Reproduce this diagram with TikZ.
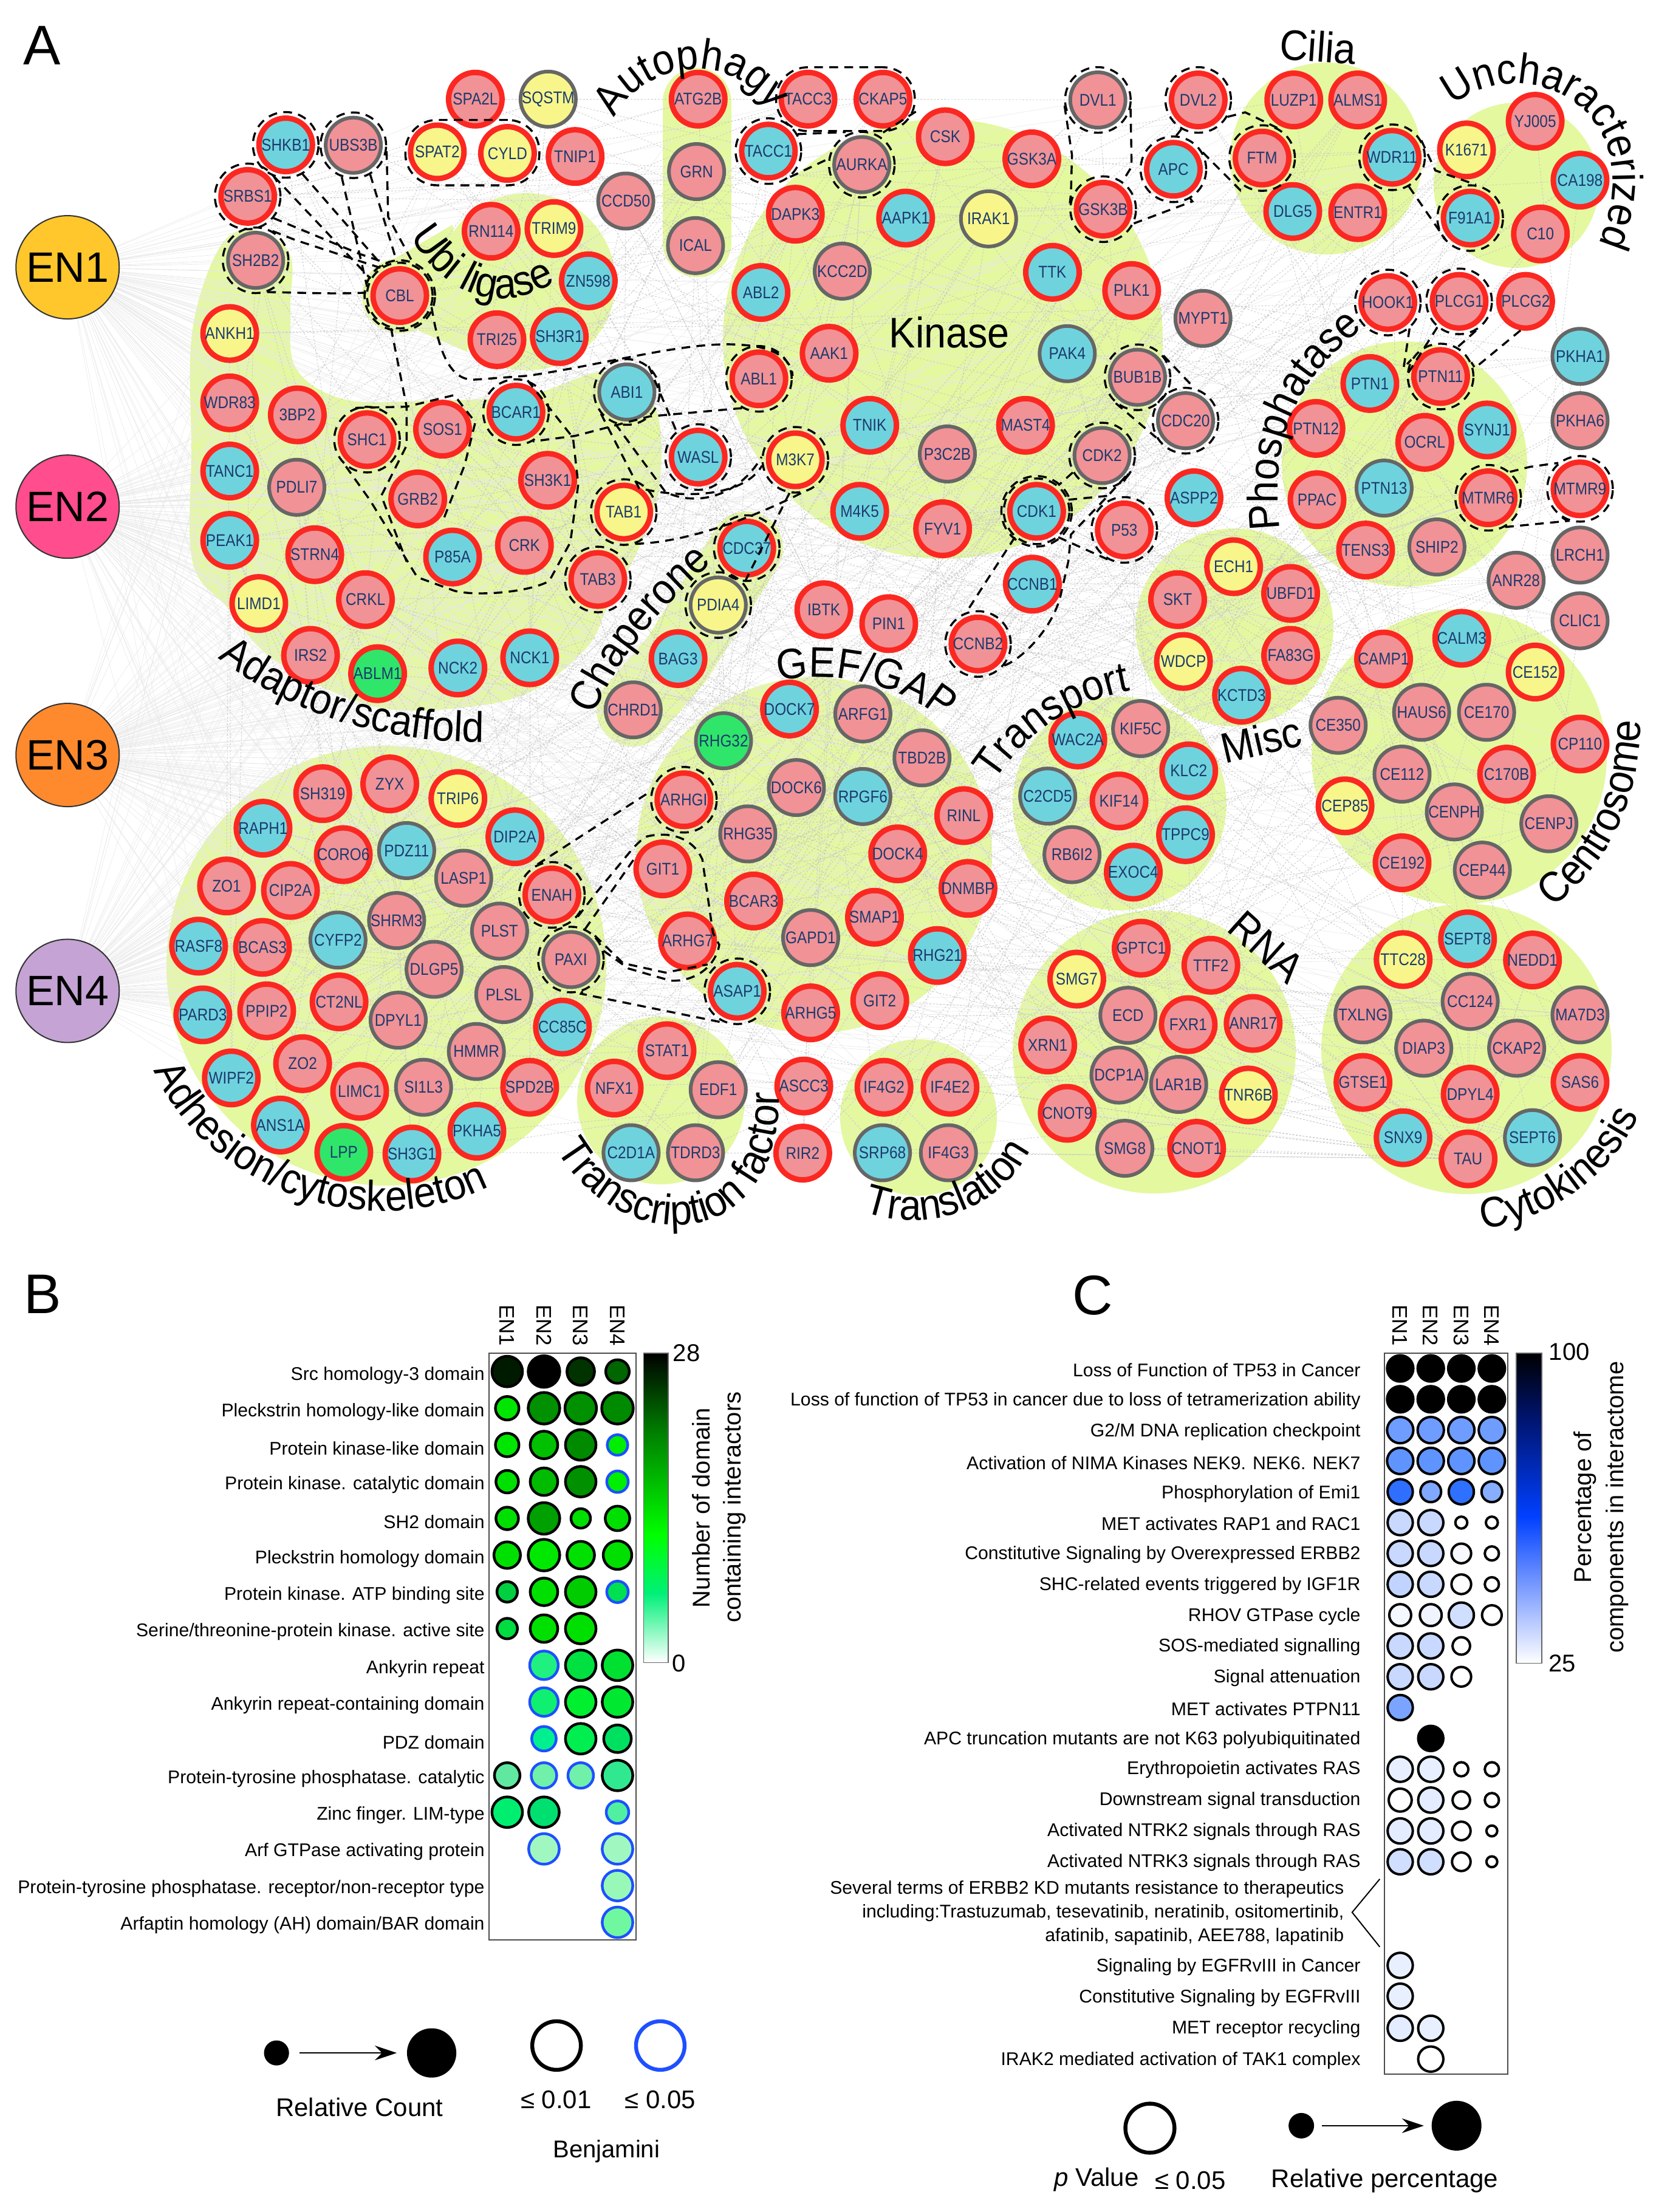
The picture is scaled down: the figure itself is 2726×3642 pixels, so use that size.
\documentclass[tikz,border=0pt]{standalone}
\usepackage{fontspec}
\setmainfont{Liberation Sans}
\newfontfamily\nf[FakeStretch=0.87]{Liberation Sans}
\newfontfamily\labf[FakeStretch=0.92]{Liberation Sans}
\usetikzlibrary{arrows.meta,decorations.text,fit,shapes.geometric}
\pgfdeclarelayer{blobs}\pgfdeclarelayer{edges}\pgfsetlayers{blobs,edges,main}
\definecolor{cP}{HTML}{F19296}\definecolor{cC}{HTML}{6FD3DE}\definecolor{cY}{HTML}{F8F68A}\definecolor{cG}{HTML}{2FE66A}
\definecolor{nRed}{HTML}{FB2822}\definecolor{nGray}{HTML}{666666}\definecolor{nTxt}{HTML}{1C3B6E}
\definecolor{blobc}{HTML}{E4F8A0}\definecolor{blueP}{HTML}{1E50FF}
\newcommand\lab{\labf\fontsize{17.6}{18}\selectfont}
\newcount\pncount
\newcommand\pn[5]{\global\advance\pncount by 1
 \expandafter\xdef\csname pnm\the\pncount\endcsname{#1}%
 \node[pnode,fill=#2,#3] (#1) at (#4,#5) {\makebox[0pt]{#1}};}
\newcommand\rg[1]{\node[ring] (r#1) at (#1) {};}
\newcommand\bd[5]{\definecolor{tmpf}{HTML}{#4}%
 \pgfmathsetmacro\tmpx{1007+73*(#2-1)}\pgfmathsetmacro\tmpy{205+59.55*#1}\pgfmathsetmacro\tmps{#3*.2073-1.1}%
 \node[dotnode,draw=#5,fill=tmpf,minimum size=\tmps pt] (B#1x#2) at (\tmpx,\tmpy) {};}
\newcommand\cd[4]{\definecolor{tmpf}{HTML}{#4}%
 \pgfmathsetmacro\tmpx{1105+55.3*(#2-1)}\pgfmathsetmacro\tmps{#3*.2273-1}%
 \node[dotnode,line width=1pt,draw=black,fill=tmpf,minimum size=\tmps pt] (C#1x#2) at (\tmpx,#1) {};}
\tikzset{
 z1/.style={x=.21733pt,y=-.15944pt},
 z2/.style={shift={(1363,0)},x=.21733pt,y=-.15944pt},
 z3/.style={shift={(0,1000)},x=.21733pt,y=-.16741pt},
 z4/.style={shift={(1363,1000)},x=.21733pt,y=-.16741pt},
 z5/.style={shift={(0,2050)},x=.20727pt,y=-.25383pt},
 z6/.style={shift={(1300,2050)},x=.22736pt,y=-.25383pt},
 pnode/.style={circle,inner sep=0pt,text=nTxt,font=\nf\fontsize{7}{7}\selectfont},
 br/.style={draw=nRed,line width=2.25pt,minimum size=22pt},
 bg/.style={draw=nGray,line width=1.5pt,minimum size=22.75pt},
 ring/.style={circle,draw=black,line width=.85pt,dash pattern=on 3.6pt off 2.6pt,minimum size=27pt,inner sep=0pt},
 capsule/.style={rectangle,draw=black,line width=.85pt,dash pattern=on 3.6pt off 2.6pt,rounded corners=13pt,inner sep=1pt},
 dl/.style={draw=black,line width=.85pt,dash pattern=on 3.6pt off 2.6pt},
 blob/.style={fill=blobc,draw=none},
 hub/.style={circle,draw=black!80,line width=.5pt,minimum size=42.5pt,inner sep=0pt,font=\fontsize{17.5}{18}\selectfont},
 grp/.style={inner sep=0pt,font=\lab},
 edgeline/.style={draw=black!22,line width=.2pt,dash pattern=on .7pt off .7pt},
 fan/.style={draw=black!9,line width=.15pt},
 dotnode/.style={circle,inner sep=0pt,line width=1.1pt},
 rowl/.style={anchor=east,inner sep=0pt,font=\fontsize{7.55}{9}\selectfont},
 panel/.style={inner sep=0pt,font=\fontsize{23}{24}\selectfont},
 small/.style={inner sep=0pt,font=\fontsize{10}{12}\selectfont},
 head/.style={inner sep=0pt,rotate=-90,font=\fontsize{8.7}{10}\selectfont},
}
\begin{document}
\begin{tikzpicture}[x=.25pt,y=-.25pt]
\useasboundingbox (0,0) rectangle (2726,3642);
% ---- blobs
\begin{pgfonlayer}{blobs}
\fill[blob] (636,1590) circle[radius=362];
\fill[blob] (1088,1812) circle[radius=138];
\fill[blob] (1512,1840) circle[radius=129];
\fill[blob] (1900,1732) circle[radius=233];
\fill[blob] (2414,1727) circle[radius=239];
\fill[blob] (2402,1246) circle[radius=243];
\fill[blob] (1843,1323) circle[radius=176];
\fill[blob] (2032,1033) circle[radius=163];
\fill[blob] (1340,1408) circle[radius=293];
\fill[blob] (2312,764) circle[radius=202];
\fill[blob] (2183,261) circle[radius=158];
\fill[blob] (2496,305) circle[radius=136];
\fill[blob] (1552,558) circle[radius=362];
\fill[blob] (867,464) circle[radius=146];
\fill[blob] (658,487) circle[radius=62];
\fill[blob] (625,440) -- (745,370) -- (770,580) -- (690,545) -- cycle;
\draw[blobc,line width=28.25pt,line cap=round] (1147,168) -- (1147,400);
\draw[blobc,line width=30pt,line cap=round,line join=round] (1229,902) -- (1115,1084) -- (1042,1169);
\fill[blob] plot[smooth cycle,tension=.6] coordinates {(317,925) (374,1000) (452,1087) (608,1161) (739,1167) (869,1141) (965,1067) (1000,1000) (1056,893) (1086,797) (1078,670) (1000,612) (869,650) (695,660) (565,657) (487,606) (478,510) (478,421) (426,380) (365,402) (317,542) (315,740)};
\end{pgfonlayer}
% ---- hubs
\begin{scope}[z1]
\node[hub,fill={rgb,255:red,255;green,199;blue,44}] (EN1) at (128,690) {EN1};
\node[hub,fill={rgb,255:red,255;green,77;blue,141}] (EN2) at (128,1308) {EN2};
\node[panel] (LA) at (80,118) {A};
\end{scope}
\begin{scope}[z3]
\node[hub,fill={rgb,255:red,255;green,138;blue,46}] (EN3) at (128,363) {EN3};
\node[hub,fill={rgb,255:red,197;green,163;blue,212}] (EN4) at (128,943) {EN4};
\end{scope}
% ---- nodes
\begin{scope}[z1]
\pn{SPA2L}{cP}{br}{900}{256}\pn{SQSTM}{cY}{bg}{1038}{256}\pn{SPAT2}{cY}{br}{828}{392}\pn{CYLD}{cY}{br}{961}{396}
\pn{TNIP1}{cP}{br}{1089}{404}\pn{SHKB1}{cC}{br}{541}{374}\pn{UBS3B}{cP}{bg}{669}{375}\pn{SRBS1}{cP}{br}{469}{507}
\pn{SH2B2}{cP}{bg}{484}{672}\pn{CCD50}{cP}{bg}{1185}{519}\pn{ATG2B}{cP}{br}{1322}{256}\pn{GRN}{cP}{bg}{1319}{443}
\pn{ICAL}{cP}{bg}{1317}{634}\pn{TACC3}{cP}{br}{1530}{256}\pn{TACC1}{cC}{br}{1455}{390}\pn{DAPK3}{cP}{br}{1506}{553}
\pn{RN114}{cP}{br}{930}{597}\pn{TRIM9}{cY}{br}{1049}{590}\pn{ZN598}{cC}{br}{1114}{725}\pn{CBL}{cP}{br}{757}{763}
\pn{TRI25}{cP}{br}{941}{877}\pn{SH3R1}{cC}{br}{1059}{869}\pn{ANKH1}{cY}{br}{435}{861}\pn{ABL2}{cC}{br}{1441}{755}
\pn{ABL1}{cP}{br}{1437}{978}\pn{AAK1}{cP}{br}{1570}{912}\pn{WDR83}{cP}{br}{435}{1040}\pn{3BP2}{cP}{br}{563}{1071}
\pn{SHC1}{cP}{br}{695}{1135}\pn{SOS1}{cP}{br}{838}{1108}\pn{BCAR1}{cC}{br}{977}{1064}\pn{ABI1}{cC}{bg}{1187}{1012}
\pn{TANC1}{cC}{br}{435}{1216}\pn{PDLI7}{cP}{bg}{562}{1258}\pn{GRB2}{cP}{br}{791}{1288}\pn{SH3K1}{cP}{br}{1037}{1240}
\pn{WASL}{cC}{br}{1322}{1180}\pn{M3K7}{cY}{br}{1506}{1187}\pn{TAB1}{cY}{br}{1181}{1322}\pn{PEAK1}{cC}{br}{435}{1395}
\pn{STRN4}{cP}{br}{596}{1432}\pn{P85A}{cC}{br}{857}{1438}\pn{CRK}{cP}{br}{993}{1408}\pn{CDC37}{cC}{br}{1414}{1415}
\pn{TAB3}{cP}{br}{1132}{1496}\pn{LIMD1}{cY}{br}{490}{1558}\pn{CRKL}{cP}{br}{692}{1548}\pn{PDIA4}{cY}{bg}{1360}{1562}
\pn{IBTK}{cP}{br}{1560}{1574}
\end{scope}
\begin{scope}[z3]
\pn{IRS2}{cP}{br}{588}{118}\pn{ABLM1}{cG}{br}{715}{163}\pn{NCK2}{cC}{br}{867}{149}\pn{NCK1}{cC}{br}{1003}{124}
\pn{BAG3}{cC}{br}{1284}{126}\pn{CHRD1}{cP}{bg}{1199}{252}\pn{DOCK7}{cC}{br}{1495}{250}\pn{RHG32}{cG}{bg}{1370}{328}
\pn{SH319}{cP}{br}{611}{458}\pn{ZYX}{cP}{br}{738}{434}\pn{TRIP6}{cY}{br}{867}{470}\pn{RAPH1}{cC}{br}{498}{543}
\pn{CORO6}{cP}{br}{650}{608}\pn{PDZ11}{cC}{bg}{770}{598}\pn{DIP2A}{cC}{br}{975}{564}\pn{LASP1}{cP}{bg}{878}{666}
\pn{ZO1}{cP}{br}{429}{685}\pn{CIP2A}{cP}{br}{550}{696}\pn{ENAH}{cP}{br}{1045}{707}\pn{SHRM3}{cP}{bg}{751}{770}
\pn{CYFP2}{cC}{bg}{640}{818}\pn{PLST}{cP}{bg}{946}{796}\pn{RASF8}{cC}{br}{376}{833}\pn{BCAS3}{cP}{br}{497}{836}
\pn{PAXI}{cP}{bg}{1081}{866}\pn{DLGP5}{cP}{bg}{822}{890}\pn{PLSL}{cP}{bg}{954}{952}\pn{CT2NL}{cP}{br}{642}{970}
\pn{PPIP2}{cP}{br}{505}{992}\pn{PARD3}{cC}{br}{384}{1002}\pn{DPYL1}{cP}{bg}{754}{1015}\pn{CC85C}{cC}{br}{1065}{1032}
\pn{HMMR}{cP}{bg}{902}{1092}\pn{ZO2}{cP}{br}{573}{1122}\pn{WIPF2}{cC}{br}{438}{1157}\pn{SI1L3}{cP}{bg}{802}{1180}
\pn{SPD2B}{cP}{br}{1003}{1180}\pn{LIMC1}{cP}{br}{681}{1190}\pn{ANS1A}{cC}{br}{531}{1273}\pn{PKHA5}{cC}{br}{903}{1288}
\pn{LPP}{cG}{br}{651}{1340}\pn{SH3G1}{cC}{br}{780}{1344}\pn{ARHGI}{cP}{br}{1295}{473}\pn{RHG35}{cP}{bg}{1416}{557}
\pn{DOCK6}{cP}{bg}{1508}{443}\pn{GIT1}{cP}{br}{1255}{643}\pn{BCAR3}{cP}{br}{1427}{722}\pn{ARHG7}{cP}{br}{1302}{820}
\pn{GAPD1}{cP}{bg}{1535}{812}\pn{ASAP1}{cC}{br}{1396}{944}\pn{ARHG5}{cP}{br}{1535}{997}\pn{STAT1}{cP}{br}{1263}{1090}
\pn{NFX1}{cP}{br}{1163}{1182}\pn{EDF1}{cP}{bg}{1360}{1186}\pn{C2D1A}{cC}{bg}{1195}{1341}\pn{TDRD3}{cP}{bg}{1317}{1341}
\pn{ASCC3}{cP}{br}{1522}{1177}\pn{RIR2}{cP}{br}{1520}{1342}
\end{scope}
\begin{scope}[z2]
\pn{CKAP5}{cP}{br}{104}{256}\pn{CSK}{cP}{br}{222}{353}\pn{GSK3A}{cP}{br}{386}{410}\pn{DVL1}{cP}{bg}{511}{258}
\pn{DVL2}{cP}{br}{701}{258}\pn{LUZP1}{cP}{br}{882}{258}\pn{ALMS1}{cP}{br}{1003}{258}\pn{AURKA}{cP}{bg}{64}{425}
\pn{AAPK1}{cC}{br}{147}{563}\pn{IRAK1}{cY}{bg}{304}{565}\pn{APC}{cC}{br}{654}{437}\pn{GSK3B}{cP}{br}{521}{540}
\pn{FTM}{cP}{br}{822}{408}\pn{WDR11}{cC}{br}{1068}{406}\pn{DLG5}{cC}{br}{880}{546}\pn{ENTR1}{cP}{br}{1003}{549}
\pn{YJ005}{cP}{br}{1339}{313}\pn{K1671}{cY}{br}{1209}{387}\pn{CA198}{cC}{br}{1424}{465}\pn{F91A1}{cC}{br}{1216}{563}
\pn{C10}{cP}{br}{1349}{604}\pn{KCC2D}{cP}{bg}{27}{700}\pn{TTK}{cC}{br}{425}{703}\pn{PLK1}{cP}{br}{575}{750}
\pn{MYPT1}{cP}{bg}{710}{822}\pn{HOOK1}{cP}{br}{1060}{781}\pn{PLCG1}{cP}{br}{1195}{778}\pn{PLCG2}{cP}{br}{1321}{778}
\pn{PAK4}{cC}{bg}{453}{913}\pn{BUB1B}{cP}{bg}{586}{974}\pn{PKHA1}{cC}{bg}{1424}{920}\pn{PTN1}{cC}{br}{1026}{990}
\pn{PTN11}{cP}{br}{1160}{972}\pn{PKHA6}{cP}{bg}{1424}{1086}\pn{CDC20}{cP}{bg}{677}{1086}\pn{TNIK}{cC}{br}{79}{1098}
\pn{MAST4}{cP}{br}{374}{1098}\pn{P3C2B}{cP}{bg}{226}{1172}\pn{CDK2}{cP}{bg}{519}{1176}\pn{PTN12}{cP}{br}{924}{1106}
\pn{OCRL}{cP}{br}{1130}{1142}\pn{SYNJ1}{cC}{br}{1248}{1110}\pn{PTN13}{cC}{bg}{1053}{1260}\pn{PPAC}{cP}{br}{926}{1290}
\pn{MTMR6}{cP}{br}{1250}{1285}\pn{MTMR9}{cP}{br}{1424}{1262}\pn{M4K5}{cC}{br}{60}{1320}\pn{CDK1}{cC}{br}{395}{1320}
\pn{FYV1}{cP}{br}{217}{1365}\pn{ASPP2}{cC}{br}{693}{1285}\pn{P53}{cP}{br}{561}{1368}\pn{TENS3}{cP}{br}{1018}{1420}
\pn{SHIP2}{cP}{bg}{1153}{1412}\pn{LRCH1}{cP}{bg}{1424}{1433}\pn{ANR28}{cP}{bg}{1303}{1498}\pn{ECH1}{cY}{br}{768}{1463}
\pn{UBFD1}{cP}{br}{876}{1532}\pn{SKT}{cP}{br}{662}{1548}\pn{CCNB1}{cC}{br}{387}{1508}
\node[grp] (lbKinase) at (230,858) {Kinase};
\node[grp,rotate=-4] (lbCilia) at (928,120) {Cilia};
\end{scope}
\begin{scope}[z4]
\pn{PIN1}{cP}{br}{115}{40}\pn{CCNB2}{cP}{br}{284}{90}\pn{CLIC1}{cP}{bg}{1424}{33}\pn{WDCP}{cY}{br}{673}{133}
\pn{FA83G}{cP}{br}{876}{118}\pn{KCTD3}{cC}{br}{783}{216}\pn{CAMP1}{cP}{br}{1052}{127}\pn{CALM3}{cC}{br}{1200}{76}
\pn{CE152}{cY}{br}{1339}{159}\pn{CE350}{cP}{bg}{966}{290}\pn{HAUS6}{cP}{bg}{1124}{258}\pn{CE170}{cP}{bg}{1247}{258}
\pn{CP110}{cP}{br}{1424}{336}\pn{CE112}{cP}{bg}{1087}{410}\pn{C170B}{cP}{br}{1285}{410}\pn{CEP85}{cY}{br}{979}{488}
\pn{CENPH}{cP}{bg}{1186}{503}\pn{CENPJ}{cP}{bg}{1365}{532}\pn{CE192}{cP}{br}{1087}{628}\pn{CEP44}{cP}{bg}{1239}{646}
\pn{ARFG1}{cP}{bg}{66}{262}\pn{TBD2B}{cP}{bg}{178}{370}\pn{RPGF6}{cC}{bg}{66}{465}\pn{RINL}{cP}{br}{257}{512}
\pn{DOCK4}{cP}{br}{132}{606}\pn{DNMBP}{cP}{br}{265}{691}\pn{SMAP1}{cP}{br}{88}{762}\pn{RHG21}{cC}{br}{207}{856}
\pn{GIT2}{cP}{br}{98}{967}\pn{WAC2A}{cC}{br}{473}{326}\pn{KIF5C}{cP}{bg}{592}{298}\pn{KLC2}{cC}{br}{683}{402}
\pn{C2CD5}{cC}{bg}{416}{464}\pn{KIF14}{cP}{br}{551}{476}\pn{TPPC9}{cC}{br}{677}{559}\pn{RB6I2}{cP}{bg}{462}{608}
\pn{EXOC4}{cC}{br}{578}{651}\pn{GPTC1}{cP}{br}{593}{838}\pn{TTF2}{cP}{br}{725}{880}\pn{SMG7}{cY}{br}{471}{914}
\pn{ECD}{cP}{bg}{568}{1003}\pn{FXR1}{cP}{br}{682}{1026}\pn{ANR17}{cP}{br}{805}{1023}\pn{XRN1}{cP}{br}{416}{1076}
\pn{DCP1A}{cP}{bg}{551}{1150}\pn{LAR1B}{cP}{bg}{664}{1173}\pn{TNR6B}{cY}{br}{796}{1199}\pn{CNOT9}{cP}{br}{453}{1244}
\pn{SMG8}{cP}{bg}{562}{1330}\pn{CNOT1}{cP}{br}{698}{1330}\pn{IF4G2}{cP}{br}{106}{1180}\pn{IF4E2}{cP}{br}{231}{1180}
\pn{SRP68}{cC}{bg}{103}{1341}\pn{IF4G3}{cP}{bg}{228}{1341}\pn{SEPT8}{cC}{br}{1211}{815}\pn{TTC28}{cY}{br}{1089}{866}
\pn{NEDD1}{cP}{br}{1334}{867}\pn{TXLNG}{cP}{bg}{1013}{1002}\pn{CC124}{cP}{bg}{1216}{969}\pn{MA7D3}{cP}{bg}{1424}{1002}
\pn{DIAP3}{cP}{bg}{1128}{1084}\pn{CKAP2}{cP}{bg}{1304}{1084}\pn{GTSE1}{cP}{br}{1013}{1168}\pn{DPYL4}{cP}{br}{1216}{1197}
\pn{SAS6}{cP}{br}{1424}{1168}\pn{SNX9}{cC}{br}{1089}{1304}\pn{SEPT6}{cC}{bg}{1334}{1304}\pn{TAU}{cP}{br}{1212}{1356}
\node[grp,rotate=-42] (lbRNA) at (830,835) {RNA};
\node[grp,rotate=13] (lbMisc) at (820,325) {Misc};
\end{scope}
% ---- grey network
\pgfmathsetseed{11}
\edef\NN{\the\pncount}
\begin{pgfonlayer}{edges}
\foreach \k in {1,...,\NN}{
  \pgfmathrandominteger{\h}{1}{4}
  \edef\A{\csname pnm\k\endcsname}
  \draw[fan] (EN\h) -- (\A);
  \pgfmathtruncatemacro\hh{mod(\h,4)+1}
  \draw[fan] (EN\hh) -- (\A);
}
\foreach \k in {1,...,430}{
  \pgfmathrandominteger{\a}{1}{\NN}\pgfmathrandominteger{\d}{1}{45}
  \pgfmathtruncatemacro\b{min(\a+\d,\NN)}
  \edef\A{\csname pnm\a\endcsname}\edef\B{\csname pnm\b\endcsname}
  \ifx\A\B\else\draw[edgeline] (\A) -- (\B);\fi
}
\foreach \k in {1,...,280}{
  \pgfmathrandominteger{\a}{1}{\NN}\pgfmathrandominteger{\b}{1}{\NN}
  \edef\A{\csname pnm\a\endcsname}\edef\B{\csname pnm\b\endcsname}
  \ifx\A\B\else\draw[edgeline] (\A) -- (\B);\fi
}
\end{pgfonlayer}
% ---- dashed rings
\rg{SHKB1}\rg{UBS3B}\rg{SRBS1}\rg{SH2B2}\rg{CBL}\rg{TACC1}\rg{AURKA}\rg{BCAR1}\rg{ABI1}\rg{WASL}\rg{M3K7}\rg{TAB1}\rg{TAB3}\rg{PDIA4}\rg{CDC37}\rg{ABL1}\rg{SHC1}
\rg{DVL1}\rg{DVL2}\rg{GSK3B}\rg{APC}\rg{FTM}\rg{WDR11}\rg{F91A1}\rg{HOOK1}\rg{PLCG1}\rg{PTN11}\rg{BUB1B}\rg{CDC20}\rg{CDK2}\rg{CDK1}\rg{P53}\rg{CCNB2}\rg{MTMR6}\rg{MTMR9}
\rg{ARHGI}\rg{ENAH}\rg{PAXI}\rg{ASAP1}
\node[ring,minimum size=29pt] (rCBLb) at (CBL) {};
\node[ring,minimum size=29pt] (rCDK1b) at (CDK1) {};
\node[capsule,fit=(SPAT2)(CYLD)] (capSC) {};
\node[capsule,fit=(TACC3)(CKAP5)] (capTC) {};
% ---- dashed connectors
\begin{scope}[z1]
\draw[dl] (rSRBS1.-40) -- (680,655) -- (rCBL.110);
\draw[dl] (rSH2B2.60) -- (560,620) -- (rCBL.125);
\draw[dl] (rSH2B2.-70) .. controls (560,755) and (640,760) .. (rCBL.175);
\draw[dl] (rSHKB1.-110) -- (rCBL.150);
\draw[dl] (rSHKB1.-60) -- (rCBL.120);
\draw[dl] (rUBS3B.-110) -- (rCBL.165);
\draw[dl] (rUBS3B.-60) -- (rCBL.95);
\draw[dl] (rUBS3B.-10) -- (735,560) -- (rCBL.65);
\draw[dl] (rCBL.-20) .. controls (830,900) and (850,985) .. (900,980) -- (1000,970) .. controls (1150,940) and (1300,880) .. (1400,890) .. controls (1480,895) and (1500,940) .. (rABL1.5);
\draw[dl] (rABL1.-120) -- (1230,1075) -- (1090,1125) -- (rBCAR1.-60);
\draw[dl] (rBCAR1.70) -- (1085,1130) -- (1095,1250) -- (1080,1400) -- (1040,1500) .. controls (1000,1530) and (900,1540) .. (860,1525) -- (790,1490) -- (700,1290) -- (rSHC1.-130);
\draw[dl] (rSHC1.110) -- (770,1050) -- (860,1020) -- (900,1090) -- (880,1200) -- (840,1340);
\draw[dl] (rCBL.-105) -- (770,1050) -- (770,1150) -- (722,1280) -- (770,1450);
\draw[dl] (rABI1.50) -- (rWASL.130);
\draw[dl] (rABI1.-110) -- (1260,1270) .. controls (1320,1310) and (1400,1280) .. (rM3K7.175);
\draw[dl] (rABI1.-140) -- (1210,1260) .. controls (1300,1290) and (1410,1280) .. (rM3K7.-170);
\draw[dl] (rTAB1.-70) .. controls (1300,1400) and (1420,1340) .. (rM3K7.-80);
\draw[dl] (rM3K7.-100) -- (rPDIA4.40);
\draw[dl] (rTACC1.-50) -- (rAURKA.170);
\draw[dl] (rTACC1.30) -- (capTC.south);
\end{scope}
\begin{scope}[z2]
\draw[dl] (capTC.-10) -- (rAURKA.60);
\draw[dl] (rDVL1.-170) -- (462,400) -- (460,500) -- (rGSK3B.170);
\draw[dl] (rDVL1.-15) -- (575,430) -- (rGSK3B.55);
\draw[dl] (rGSK3B.-25) -- (690,520) -- (rAPC.-60);
\draw[dl] (rDVL2.-120) -- (rAPC.85);
\draw[dl] (rDVL2.-30) -- (790,290) -- (rFTM.60);
\draw[dl] (rAPC.30) -- (780,490) -- (rFTM.-130);
\draw[dl] (rWDR11.30) -- (1150,440) -- (rF91A1.80);
\draw[dl] (rWDR11.-60) -- (1170,620) -- (rF91A1.-150);
\draw[dl] (rHOOK1.-50) -- (1090,950) -- (rPTN11.150);
\draw[dl] (rPLCG1.-130) -- (1100,960) -- (rPTN11.175);
\draw[dl] (rPLCG1.-60) -- (rPTN11.60);
\draw[dl] (PLCG2.-100) -- (1225,950) -- (rPTN11.25);
\draw[dl] (rBUB1B.40) -- (rCDC20.75);
\draw[dl] (rBUB1B.-130) -- (rCDC20.-150);
\draw[dl] (rCDK2.-150) -- (rCDK1.50);
\draw[dl] (rCDK1.20) -- (530,1280) -- (rP53.120);
\draw[dl] (rCDK1.-50) -- (rP53.-110);
\draw[dl] (rCDK2.-50) -- (570,1220) -- (530,1280) -- (460,1380) -- (455,1450) -- (440,1540) .. controls (425,1620) and (370,1700) .. (rCCNB2.-40);
\draw[dl] (rCDK1.-130) -- (300,1500) -- (rCCNB2.110);
\draw[dl] (rMTMR6.50) -- (1330,1205) -- (rMTMR9.130);
\draw[dl] (rMTMR6.-60) -- (1400,1345) -- (rMTMR9.-130);
\end{scope}
\begin{scope}[z3]
\draw[dl] (rENAH.115) -- (rARHGI.165);
\draw[dl] (rENAH.-40) -- (1130,700) -- (1200,590) -- (1220,565) .. controls (1260,550) and (1310,560) .. (1330,620) -- (1350,800) -- (1362,830) .. controls (1355,880) and (1320,920) .. (1270,918) -- (1190,888) -- (rPAXI.15);
\draw[dl] (rPAXI.65) -- (1200,620) -- (GIT1.170);
\draw[dl] (rPAXI.45) -- (1180,875) -- (1260,898) -- (1340,878);
\draw[dl] (rPAXI.-70) -- (1100,950) -- (rASAP1.-110);
\end{scope}
% ---- group labels along arcs
\path[decorate,decoration={text along path,text={|\lab|Autophagy},text align=center}] (1008,203) .. controls (1050,105) and (1205,70) .. (1272,190);
\path[decorate,decoration={text along path,text={|\lab|Ubi ligase},text align=center}] (672,385) .. controls (730,480) and (810,525) .. (920,462);
\path[decorate,decoration={text along path,text={|\lab|Adaptor/scaffold},text align=center}] (348,1075) .. controls (470,1170) and (620,1225) .. (810,1222);
\path[decorate,decoration={text along path,text={|\lab|Adhesion/cytoskeleton},text align=center}] (250,1755) .. controls (330,1950) and (600,2060) .. (812,1950);
\path[decorate,decoration={text along path,text={|\lab|Transcription factor},text align=center}] (905,1872) .. controls (1000,2075) and (1300,2085) .. (1282,1775);
\path[decorate,decoration={text along path,text={|\lab|Translation},text align=center}] (1422,1995) .. controls (1520,2030) and (1640,2000) .. (1695,1895);
\path[decorate,decoration={text along path,text={|\lab|Cytokinesis},text align=center}] (2435,2025) .. controls (2540,2010) and (2650,1950) .. (2700,1830);
\path[decorate,decoration={text along path,text={|\lab|Centrosome},text align=center}] (2555,1495) .. controls (2650,1420) and (2700,1320) .. (2700,1185);
\path[decorate,decoration={text along path,text={|\lab|Transport},text align=center}] (1630,1298) .. controls (1690,1200) and (1775,1150) .. (1875,1135);
\path[decorate,decoration={text along path,text={|\lab|GEF/GAP},text align=center}] (1270,1125) .. controls (1350,1100) and (1480,1118) .. (1562,1195);
\path[decorate,decoration={text along path,text={|\lab|Chaperone},text align=center}] (978,1175) .. controls (1025,1070) and (1090,1000) .. (1170,928);
\path[decorate,decoration={text along path,text={|\lab|Phosphatase},text align=center}] (2108,880) .. controls (2090,730) and (2125,630) .. (2250,535);
\path[decorate,decoration={text along path,text={|\lab|Uncharacterized},text align=center}] (2380,185) .. controls (2490,70) and (2740,170) .. (2625,415);
% ---- panel B
\begin{scope}[z5]
\node[panel] (LB) at (85,80) {B};
\draw[black!70,line width=.5pt] (971,175) rectangle (1263,1127);
\foreach \yy/\lbl in {211/{Src homology-3 domain},271/{Pleckstrin homology-like domain},330/{Protein kinase-like domain},389/{Protein kinase. catalytic domain},449/{SH2 domain},509/{Pleckstrin homology domain},568/{Protein kinase. ATP binding site},627/{Serine/threonine-protein kinase. active site},687/{Ankyrin repeat},746/{Ankyrin repeat-containing domain},806/{PDZ domain},865/{Protein-tyrosine phosphatase. catalytic},924/{Zinc finger. LIM-type},984/{Arf GTPase activating protein},1044/{Protein-tyrosine phosphatase. receptor/non-receptor type},1103/{Arfaptin homology (AH) domain/BAR domain}}
  \node[rowl] (BL\yy) at (963,\yy) {\lbl};
\foreach \xx/\lbl in {1007/EN1,1080/EN2,1153/EN3,1226/EN4} \node[head] (BH\lbl) at (\xx,130) {\lbl};
\bd{0}{1}{66}{001A00}{black}\bd{0}{2}{68}{000000}{black}\bd{0}{3}{60}{003300}{black}\bd{0}{4}{52}{006600}{black}
\bd{1}{1}{52}{00E600}{black}\bd{1}{2}{68}{009000}{black}\bd{1}{3}{68}{009000}{black}\bd{1}{4}{68}{008A00}{black}
\bd{2}{1}{52}{00E600}{black}\bd{2}{2}{60}{00C000}{black}\bd{2}{3}{66}{008A00}{black}\bd{2}{4}{46}{00EE00}{blueP}
\bd{3}{1}{50}{00E000}{black}\bd{3}{2}{60}{00BB00}{black}\bd{3}{3}{66}{009000}{black}\bd{3}{4}{48}{00EE00}{blueP}
\bd{4}{1}{50}{00E000}{black}\bd{4}{2}{68}{00A000}{black}\bd{4}{3}{44}{00E000}{black}\bd{4}{4}{54}{00E000}{black}
\bd{5}{1}{58}{00E000}{black}\bd{5}{2}{68}{00E800}{black}\bd{5}{3}{60}{00E000}{black}\bd{5}{4}{62}{00E000}{black}
\bd{6}{1}{46}{00D040}{black}\bd{6}{2}{60}{00E000}{black}\bd{6}{3}{66}{00CC00}{black}\bd{6}{4}{48}{00E050}{blueP}
\bd{7}{1}{46}{00DD40}{black}\bd{7}{2}{60}{00E000}{black}\bd{7}{3}{66}{00E000}{black}
\bd{8}{2}{62}{20F080}{blueP}\bd{8}{3}{66}{00E040}{black}\bd{8}{4}{66}{00E030}{black}
\bd{9}{2}{62}{10F070}{blueP}\bd{9}{3}{66}{00F030}{black}\bd{9}{4}{66}{00E830}{black}
\bd{10}{2}{54}{00F090}{blueP}\bd{10}{3}{66}{00EE50}{black}\bd{10}{4}{60}{00E060}{black}
\bd{11}{1}{56}{60E8A0}{black}\bd{11}{2}{56}{70F0A8}{blueP}\bd{11}{3}{56}{70F0A8}{blueP}\bd{11}{4}{66}{30E890}{black}
\bd{12}{1}{66}{00EE70}{black}\bd{12}{2}{66}{00E070}{black}\bd{12}{4}{50}{50F0A0}{blueP}
\bd{13}{2}{66}{A0F8C0}{blueP}\bd{13}{4}{66}{A0F8C0}{blueP}
\bd{14}{4}{66}{98F8B8}{blueP}
\bd{15}{4}{66}{70F8A0}{blueP}
\shade[top color=black,bottom color=black!35!green!75!black] (1278,175) rectangle (1327,300);
\shade[top color=black!35!green!75!black,bottom color=green] (1278,300) rectangle (1327,470);
\shade[top color=green,bottom color={rgb,255:red,0;green,240;blue,120}] (1278,470) rectangle (1327,565);
\shade[top color={rgb,255:red,0;green,240;blue,120},bottom color=white] (1278,565) rectangle (1327,677);
\draw[black!60,line width=.4pt] (1278,175) rectangle (1327,677);
\node[small,font=\fontsize{10}{12}\selectfont] (B28) at (1363,175) {28};
\node[small] (B0) at (1348,678) {0};
\node[small,rotate=90] (BT1) at (1392,426) {Number of domain};
\node[small,rotate=90] (BT2) at (1458,425) {containing interactors};
\node[circle,fill=black,inner sep=0pt,minimum size=10.3pt] (BS) at (549,1310) {};
\node[circle,fill=black,inner sep=0pt,minimum size=20.3pt] (BL) at (857,1310) {};
\draw[black,line width=.6pt,-{Stealth[length=9pt,width=6pt]}] ([xshift=4pt]BS.east) -- ([xshift=-4pt]BL.west);
\node[small,font=\fontsize{10.5}{12}\selectfont] (BRC) at (714,1398) {Relative Count};
\node[circle,draw=black,line width=1.6pt,inner sep=0pt,minimum size=20pt] (BO1) at (1105,1298) {};
\node[circle,draw=blueP,line width=1.6pt,inner sep=0pt,minimum size=20pt] (BO2) at (1311,1298) {};
\node[small,font=\fontsize{10.5}{12}\selectfont] (BP1) at (1104,1386) {≤ 0.01};
\node[small,font=\fontsize{10.5}{12}\selectfont] (BP2) at (1311,1386) {≤ 0.05};
\node[small,font=\fontsize{10}{12}\selectfont] (BB) at (1204,1470) {Benjamini};
\end{scope}
% ---- panel C
\begin{scope}[z6]
\node[panel] (LC) at (548,82) {C};
\draw[black!70,line width=.5pt] (1076,175) rectangle (1300,1344);
\foreach \yy/\lbl in {203/{Loss of Function of TP53 in Cancer},253/{Loss of function of TP53 in cancer due to loss of tetramerization ability},303/{G2/M DNA replication checkpoint},353/{Activation of NIMA Kinases NEK9. NEK6. NEK7},403/{Phosphorylation of Emi1},452/{MET activates RAP1 and RAC1},502/{Constitutive Signaling by Overexpressed ERBB2},552/{SHC-related events triggered by IGF1R},602/{RHOV GTPase cycle},652/{SOS-mediated signalling},702/{Signal attenuation},752/{MET activates PTPN11},802/{APC truncation mutants are not K63 polyubiquitinated},851/{Erythropoietin activates RAS},901/{Downstream signal transduction},951/{Activated NTRK2 signals through RAS},1001/{Activated NTRK3 signals through RAS},1171/{Signaling by EGFRvIII in Cancer},1221/{Constitutive Signaling by EGFRvIII},1271/{MET receptor recycling},1322/{IRAK2 mediated activation of TAK1 complex}}
  \node[rowl] (CL\yy) at (1034,\yy) {\lbl};
\node[rowl] (CLa) at (1004,1045) {Several terms of ERBB2 KD mutants resistance to therapeutics};
\node[rowl] (CLb) at (1004,1083) {including:Trastuzumab, tesevatinib, neratinib, ositomertinib,};
\node[rowl] (CLc) at (1004,1121) {afatinib, sapatinib, AEE788, lapatinib};
\coordinate (brT) at (1068,1028);\coordinate (brM) at (1018,1082);\coordinate (brB) at (1068,1138);
\draw[black,line width=.5pt] (brT) -- (brM) -- (brB);
\foreach \xx/\lbl in {1105/EN1,1160/EN2,1216/EN3,1271/EN4} \node[head] (CH\lbl) at (\xx,130) {\lbl};
\foreach \c in {1,2,3,4}{\cd{200}{\c}{52}{000000}\cd{250}{\c}{52}{000000}\cd{300}{\c}{52}{6F9DFF}\cd{350}{\c}{52}{5F94FF}}
\cd{400}{1}{50}{2E6FFF}\cd{400}{2}{42}{80A8FF}\cd{400}{3}{50}{2E70FF}\cd{400}{4}{42}{88AEFF}
\cd{450}{1}{50}{C8D8FF}\cd{450}{2}{50}{C8D8FF}\cd{450}{3}{26}{FFFFFF}\cd{450}{4}{26}{FFFFFF}
\cd{500}{1}{50}{C8D8FF}\cd{500}{2}{50}{C8D8FF}\cd{500}{3}{40}{F8F8FF}\cd{500}{4}{30}{FFFFFF}
\cd{550}{1}{50}{C0D4FF}\cd{550}{2}{50}{C8D8FF}\cd{550}{3}{40}{FFFFFF}\cd{550}{4}{30}{FFFFFF}
\cd{600}{1}{44}{F4F8FF}\cd{600}{2}{44}{F0F4FF}\cd{600}{3}{50}{D0DEFF}\cd{600}{4}{40}{FFFFFF}
\cd{650}{1}{50}{C8D8FF}\cd{650}{2}{50}{C8D8FF}\cd{650}{3}{36}{FFFFFF}
\cd{700}{1}{50}{C8D8FF}\cd{700}{2}{50}{C8D8FF}\cd{700}{3}{40}{FFFFFF}
\cd{750}{1}{50}{7AA4FF}
\cd{800}{2}{50}{000000}
\cd{850}{1}{50}{E8F0FF}\cd{850}{2}{50}{E8F0FF}\cd{850}{3}{30}{FFFFFF}\cd{850}{4}{30}{FFFFFF}
\cd{900}{1}{46}{FFFFFF}\cd{900}{2}{50}{E4ECFF}\cd{900}{3}{36}{FFFFFF}\cd{900}{4}{30}{FFFFFF}
\cd{950}{1}{50}{E4ECFF}\cd{950}{2}{50}{E4ECFF}\cd{950}{3}{38}{FFFFFF}\cd{950}{4}{24}{FFFFFF}
\cd{1000}{1}{50}{D0DEFF}\cd{1000}{2}{50}{D0DEFF}\cd{1000}{3}{38}{FFFFFF}\cd{1000}{4}{24}{FFFFFF}
\cd{1168}{1}{50}{E8F0FF}\cd{1218}{1}{50}{E8F0FF}\cd{1270}{1}{50}{E4ECFF}\cd{1270}{2}{50}{E8F0FF}\cd{1320}{2}{50}{FFFFFF}
\shade[top color=black,bottom color={rgb,255:red,0;green,20;blue,110}] (1315,175) rectangle (1361,280);
\shade[top color={rgb,255:red,0;green,20;blue,110},bottom color={rgb,255:red,0;green,64;blue,255}] (1315,280) rectangle (1361,440);
\shade[top color={rgb,255:red,0;green,64;blue,255},bottom color=white] (1315,440) rectangle (1361,678);
\draw[black!60,line width=.4pt] (1315,175) rectangle (1361,678);
\node[small] (C100) at (1411,173) {100};
\node[small] (C25) at (1398,678) {25};
\node[small,rotate=90] (CT1) at (1440,425) {Percentage of};
\node[small,rotate=90] (CT2) at (1498,425) {components in interactome};
\node[circle,draw=black,line width=1.6pt,inner sep=0pt,minimum size=20.2pt] (CO) at (652,1432) {};
\node[circle,fill=black,inner sep=0pt,minimum size=10.5pt] (CS) at (926,1428) {};
\node[circle,fill=black,inner sep=0pt,minimum size=20.5pt] (CB) at (1207,1428) {};
\draw[black,line width=.6pt,-{Stealth[length=9pt,width=6pt]}] ([xshift=3pt]CS.east) -- ([xshift=-3pt]CB.west);
\node[small,font=\fontsize{10.5}{12}\selectfont] (CPV) at (555,1515) {{\itshape p} Value};
\node[small,font=\fontsize{10.5}{12}\selectfont] (CPL) at (725,1517) {≤ 0.05};
\node[small,font=\fontsize{10.5}{12}\selectfont] (CRP) at (1077,1517) {Relative percentage};
\end{scope}
\end{tikzpicture}
\end{document}
